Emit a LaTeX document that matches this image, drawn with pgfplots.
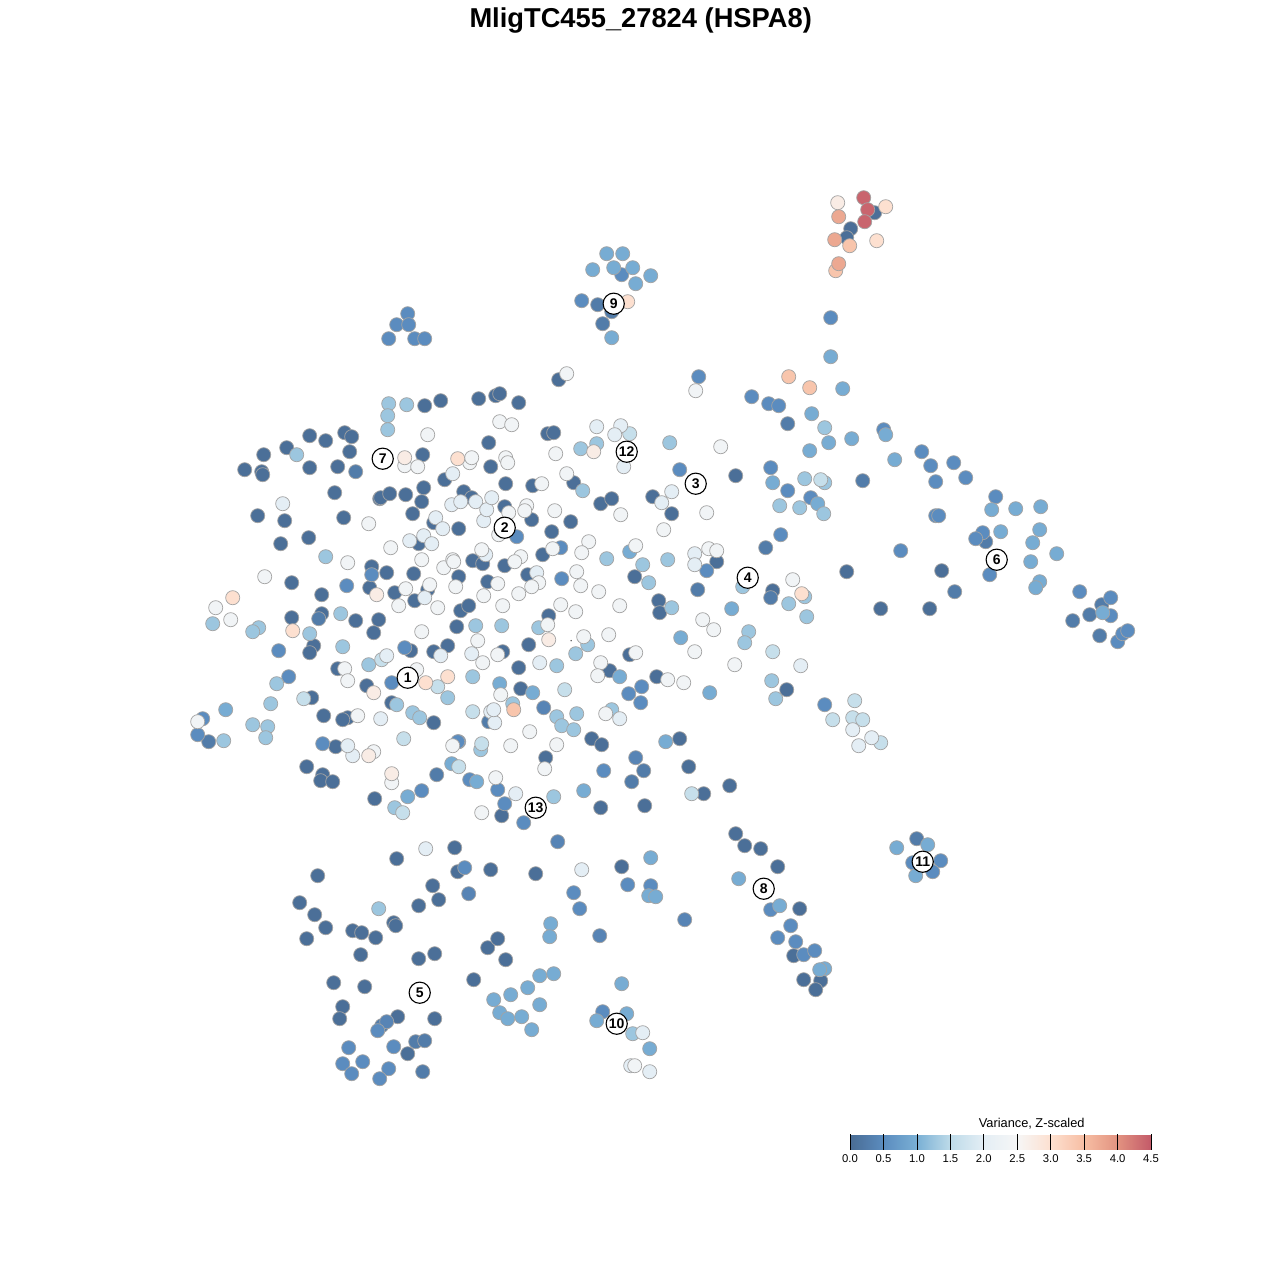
\documentclass[border=0pt]{standalone}
\usepackage{pgfplots}
\pgfplotsset{compat=1.18}
\usepackage{fontspec}
\setmainfont{Liberation Sans}
\newcommand{\fs}[1]{\fontsize{#1}{#1}\selectfont}
\pgfplotsset{
  pts/.style={scatter, only marks, mark=*, mark size=7.05pt, point meta=#1,
    scatter/use mapped color={draw=black!36, fill=mapped color, line width=0.7pt}},
}
\begin{document}
\begin{tikzpicture}
\begin{axis}[
    width=1280pt, height=1280pt, scale only axis,
    xmin=-0.7, xmax=1279.3, ymin=-0.7, ymax=1279.3,
    y dir=reverse,
    hide axis, clip=false,
    point meta min=0, point meta max=4.5,
    colormap={vmap}{
      rgb255(0)=(73,108,148) rgb255(1)=(91,140,191) rgb255(2)=(122,176,213)
      rgb255(3)=(190,219,233) rgb255(4)=(228,238,245) rgb255(5)=(246,246,246)
      rgb255(6)=(253,224,208) rgb255(7)=(247,190,163) rgb255(8)=(226,146,128)
      rgb255(9)=(195,90,105)},
    colorbar horizontal,
    colorbar style={
      at={(0.6641,0.1016)}, anchor=south west,
      width=301pt, height=16pt, scale only axis,
      xtick={0,0.5,...,4.5},
      xtick align=inside, xtick pos=bottom,
      major tick length=16pt,
      tick style={black, line width=0.8pt},
      axis line style={draw=none},
      xticklabel style={font=\fs{11.3}, yshift=-1.5pt, /pgf/number format/fixed, /pgf/number format/fixed zerofill,
        /pgf/number format/precision=1, /pgf/number format/assume math mode=true},
    },
]
\path (axis cs:-0.7,-0.7) rectangle (axis cs:1279.3,1279.3);
% dark
\addplot[pts=0.05] coordinates {
(424,405)(440,400)(478,398)(495,395)(499,393)(518,402)(558,379)(488,442)(344,432)(351,436)(309,435)(325,440)
(286,447)(263,454)(349,451)(244,469)(261,471)(262,474)(309,467)(337,466)(422,454)(444,479)(490,466)(334,492)
(379,498)(380,497)(389,493)(405,494)(423,487)(421,501)(412,513)(463,491)(471,497)(433,522)(458,528)(257,515)
(284,520)(343,517)(308,537)(280,543)(418,543)(371,566)(386,572)(413,573)(472,560)(482,563)(458,576)(487,581)
(291,582)(369,587)(394,592)(427,589)(414,600)(321,594)(291,617)(321,613)(355,620)(378,619)(373,632)(460,610)
(468,605)(456,626)(313,645)(309,652)(410,650)(337,668)(366,685)(433,651)(447,645)(311,697)(391,702)(433,722)
(347,717)(342,719)(323,715)(335,746)(490,720)(306,766)(322,774)(320,780)(332,781)(374,798)(547,433)(553,432)
(573,482)(505,483)(532,485)(504,506)(531,519)(570,521)(600,503)(611,498)(652,496)(671,513)(551,531)(542,554)
(504,565)(527,574)(634,576)(658,600)(659,612)(716,561)(548,615)(528,644)(629,654)(502,651)(518,667)(609,670)
(656,676)(520,688)(591,738)(601,744)(679,738)(545,757)(688,766)(703,793)(729,785)(600,807)(644,805)(501,815)
(735,833)(744,845)(760,848)(777,866)(735,475)(772,590)(846,571)(880,608)(929,608)(941,570)(786,689)(799,908)
(793,955)(803,979)(820,980)(815,989)(874,212)(850,228)(846,237)(454,847)(396,858)(457,871)(490,869)(535,873)
(621,866)(317,875)(299,902)(314,914)(325,927)(306,938)(352,930)(361,932)(375,937)(393,922)(395,925)(418,905)
(432,885)(438,899)(360,954)(418,958)(434,953)(487,947)(497,938)(505,959)(473,979)(333,982)(364,986)(342,1006)
(339,1018)(397,1016)(434,1018)(407,1053)
};
% slightly lighter dark
\addplot[pts=0.25] coordinates {
(355,471)(697,589)(436,774)(631,781)(643,770)(765,547)(770,597)(787,423)(862,480)(954,591)(985,541)(1072,620)
(1089,614)(1101,604)(1099,635)(916,838)(381,1025)(415,1041)(424,1040)(422,1071)(597,304)(611,311)(602,323)
(318,618)(208,741)(488,721)
};
\addplot[pts=0.38] coordinates {
(543,707)(635,757)(557,841)(684,919)(599,935)(468,893)(386,1021)
};
% mid blue
\addplot[pts=0.5] coordinates {
(371,574)(346,585)(278,650)(404,647)(288,676)(391,682)(202,718)(197,734)(322,743)(458,741)(469,779)(421,790)
(698,376)(679,469)(516,536)(560,547)(561,578)(706,570)(641,686)(628,693)(640,702)(457,741)(603,770)(497,789)
(504,803)(523,822)(830,317)(780,534)(770,467)(787,490)(810,497)(768,403)(778,405)(751,396)(883,429)(921,451)
(930,465)(935,481)(953,462)(965,477)(900,550)(935,515)(938,515)(995,496)(982,532)(975,538)(989,574)(1079,591)
(1110,597)(1110,615)(1117,641)(1122,633)(1127,630)(824,704)(621,274)(581,300)(407,313)(396,324)(408,324)(388,338)
(414,338)(424,338)(770,909)(790,925)(777,937)(795,941)(803,954)(814,950)(912,862)(940,860)(932,871)(464,867)
(627,884)(650,885)(573,892)(579,908)(377,1030)(348,1047)(393,1046)(342,1063)(362,1061)(351,1073)(388,1068)(379,1078)
(602,1011)
};
% light mid blue
\addplot[pts=0.95] coordinates {
(225,709)(451,763)(476,781)(407,796)(499,683)(532,692)(619,676)(709,692)(680,637)(629,551)(731,608)(583,790)
(809,450)(828,442)(851,438)(811,413)(772,482)(817,503)(842,388)(830,356)(885,434)(894,459)(991,509)(1015,508)
(1040,506)(1039,529)(1000,531)(1032,542)(1056,553)(1030,561)(1039,581)(1035,587)(1102,612)(606,253)(622,253)
(592,269)(613,267)(632,267)(650,275)(635,283)(611,337)(738,878)(779,905)(824,968)(819,969)(927,844)(896,847)
(915,875)(650,857)(648,895)(655,896)(550,923)(549,936)(539,975)(553,973)(527,987)(510,994)(493,999)(539,1004)
(499,1012)(507,1018)(521,1016)(531,1029)(621,983)(626,1013)(596,1020)(649,1048)(665,741)
};
% pale blue
\addplot[pts=1.25] coordinates {
(388,403)(406,404)(387,415)(387,429)(296,454)(325,556)(212,623)(258,627)(252,631)(309,633)(340,613)(475,625)
(342,646)(368,664)(276,683)(447,697)(472,676)(270,703)(396,704)(412,712)(419,717)(223,740)(252,724)(267,726)
(265,737)(480,749)(394,807)(580,448)(596,443)(669,442)(582,490)(606,558)(642,564)(667,559)(648,582)(671,607)
(538,627)(501,625)(587,644)(575,653)(556,665)(512,703)(556,716)(561,725)(573,729)(576,713)(611,709)(553,796)
(748,631)(744,642)(742,586)(771,680)(775,698)(788,603)(804,596)(806,616)(779,505)(804,478)(824,482)(799,507)
(823,513)(824,427)(378,908)(632,1033)
};
% very pale blue
\addplot[pts=1.6] coordinates {
(381,659)(303,698)(437,686)(403,738)(481,743)(472,711)(458,766)(402,812)(629,433)(564,689)(691,793)(772,651)
(854,700)(832,719)(852,717)(862,719)(880,742)(820,479)
};
% whites
\addplot[pts=2.0] coordinates {
(452,473)(451,504)(460,501)(475,501)(435,517)(442,528)(483,520)(486,509)(491,497)(282,503)(409,540)(423,535)
(431,543)(485,554)(424,597)(386,655)(440,655)(471,653)(380,718)(352,755)(347,745)(490,711)(596,426)(620,425)
(614,434)(623,466)(671,491)(661,502)(536,572)(694,553)(694,564)(515,793)(494,722)(493,709)(619,718)(539,662)
(425,848)(581,869)(642,1032)(630,1065)(649,1071)(800,665)(852,729)(871,737)(858,745)
};
\addplot[pts=2.35] coordinates {
(427,434)(404,465)(417,466)(469,462)(471,457)(368,523)(390,547)(421,559)(347,562)(443,567)(452,559)(453,561)
(481,549)(455,586)(483,595)(264,576)(405,588)(429,584)(398,605)(437,607)(215,607)(230,619)(421,631)(477,640)
(344,668)(347,680)(416,669)(482,662)(357,715)(197,721)(452,745)(373,751)(391,782)(481,812)(695,390)(566,373)(566,473)
(499,421)(511,424)(555,453)(720,446)(505,457)(507,462)(541,483)(508,512)(526,505)(524,510)(554,510)(620,514)
(706,512)(663,529)(498,534)(588,541)(581,552)(552,548)(635,545)(520,556)(514,561)(497,583)(538,582)
(531,586)(576,571)(580,585)(598,591)(518,593)(502,605)(560,604)(575,611)(619,605)(708,548)(716,550)(702,619)
(713,629)(547,624)(583,636)(608,634)(635,652)(694,651)(734,664)(497,654)(600,662)(597,675)(667,679)(683,682)
(500,694)(529,731)(605,713)(556,744)(510,745)(544,768)(495,777)(792,579)(634,1065)
};
% warm
\addplot[pts=2.72] coordinates {(404,457)(376,594)(373,692)(368,755)(391,773)(593,451)(548,639)(837,202)};
\addplot[pts=3.0] coordinates {(457,458)(232,597)(292,630)(425,682)(447,676)(801,593)(885,206)(876,240)(627,301)};
\addplot[pts=3.4] coordinates {(513,709)(788,376)(809,387)(835,270)(849,245)};
\addplot[pts=3.75] coordinates {(838,216)(834,239)(838,263)};
\addplot[pts=4.4] coordinates {(863,197)(867,209)(864,221)};
% tiny stray dot near the centre
\addplot[only marks, mark=*, mark size=0.5pt, color=black!60] coordinates {(570.5,640)};
% cluster labels
\addplot[only marks, mark=*, mark size=10.6pt, mark options={fill=white, draw=black, line width=1.1pt},
    point meta=explicit symbolic, nodes near coords,
    every node near coord/.style={anchor=center, inner sep=0pt, font=\fs{14}\bfseries, text=black}]
  coordinates {
  (407,677)[1] (504,527)[2] (695,483)[3] (747,577)[4] (419,992)[5] (996,559)[6] (382,458)[7]
  (763,888)[8] (613,303)[9] (616,1023)[10] (922,861)[11] (626,451)[12] (535,807)[13]
};
\node[font=\fs{27.3}\bfseries, anchor=center] at (axis cs:640,20) {MligTC455\_27824 (HSPA8)};
\node[font=\fs{12.8}, anchor=center] at (axis cs:1031,1122.5) {Variance, Z-scaled};
\end{axis}
\end{tikzpicture}
\end{document}
